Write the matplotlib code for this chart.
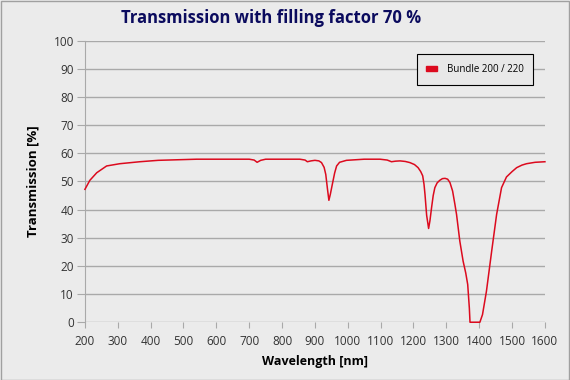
import matplotlib
matplotlib.use("Agg")
import matplotlib.pyplot as plt
from matplotlib.patches import Patch, Rectangle

# wavelength [nm] and transmission [%]
wavelength = [200, 215, 236, 266, 306, 367, 423, 540, 700, 715, 724, 735, 750,
              854, 870, 877, 888, 900, 912, 920, 928, 933, 938, 942.5, 947, 953,
              960, 966, 975, 996, 1050, 1098, 1120, 1133, 1145, 1159, 1175, 1189,
              1203, 1214, 1222, 1228, 1232, 1235, 1240, 1246, 1250, 1255, 1260,
              1265, 1272, 1280, 1288, 1296, 1304, 1311, 1319, 1326, 1331, 1341,
              1351, 1359, 1365, 1370, 1372, 1402, 1410, 1422, 1438, 1453, 1468,
              1483, 1500, 1514, 1530, 1544, 1570, 1585, 1600]
transmission = [47.2, 50.4, 53.1, 55.5, 56.3, 57.0, 57.5, 57.9, 57.9, 57.6, 56.8,
                57.5, 57.9, 57.9, 57.6, 57.0, 57.3, 57.5, 57.3, 56.7, 55.0, 52.5,
                47.5, 43.3, 45.5, 49.0, 53.0, 55.5, 56.8, 57.5, 57.9, 57.9, 57.6,
                57.0, 57.2, 57.3, 57.1, 56.7, 56.0, 54.9, 53.5, 52.0, 49.0, 45.4,
                38.0, 33.3, 36.0, 40.7, 45.0, 47.8, 49.5, 50.4, 51.0, 51.1, 50.8,
                49.6, 46.6, 41.9, 38.3, 28.8, 21.7, 17.5, 13.4, 5.0, 0.0, 0.0, 2.7,
                11.0, 25.3, 38.3, 47.8, 51.6, 53.5, 54.9, 55.8, 56.3, 56.8, 56.9, 57.0]

x_ticks = list(range(200, 1601, 100))
y_ticks = list(range(0, 101, 10))
series_name = "Bundle 200 / 220"

bg = "#ebebeb"
grid_col = "#a9a9a9"
red = "#dc0a1e"

plt.rcParams["font.family"] = ["Open Sans", "DejaVu Sans"]

fig = plt.figure(figsize=(5.7, 3.8), dpi=100, facecolor=bg)
ax = fig.add_axes([0.149, 0.152, 0.807, 0.741], facecolor=bg)

ax.plot(wavelength, transmission, color=red, lw=1.1, label=series_name,
        clip_on=False, zorder=3)

ax.set_xlim(200, 1600)
ax.set_ylim(0, 100)
ax.set_xticks(x_ticks)
ax.set_yticks(y_ticks)
ax.yaxis.grid(True, color=grid_col, lw=1)
ax.set_axisbelow(True)
for s in ["top", "right", "bottom"]:
    ax.spines[s].set_visible(False)
ax.spines["left"].set_color(grid_col)
ax.tick_params(axis="y", length=6, color=grid_col, labelsize=8.5,
               labelcolor="#333333", pad=2)
ax.tick_params(axis="x", length=4, color=grid_col, labelsize=8.5,
               labelcolor="#333333", pad=5)

ax.set_xlabel("Wavelength [nm]", fontsize=9, fontweight="bold", labelpad=5)
ax.set_ylabel("Transmission [%]", fontsize=9.5, fontweight="bold", labelpad=10)
fig.text(0.475, 0.952, "Transmission with filling factor 70 %", ha="center",
         va="center", fontsize=12, fontweight="bold", color="#0b0b5e")

leg = ax.legend(handles=[Patch(color=red, label=series_name)], loc="center",
                bbox_to_anchor=(0.72, 0.85, 0.256, 0.096), fontsize=7,
                handlelength=1.1, handleheight=0.45, handletextpad=1.0,
                borderpad=1.0, borderaxespad=0, fancybox=False, framealpha=1)
leg.get_frame().set_facecolor("#e8e8e8")
leg.get_frame().set_edgecolor("black")
leg.get_frame().set_linewidth(0.8)

fig.patches.append(Rectangle((0.001, 0.001), 0.997, 0.997, transform=fig.transFigure,
                             fill=False, edgecolor="#a0a0a0", lw=1))

fig.savefig("out.png", dpi=100, facecolor=bg)
